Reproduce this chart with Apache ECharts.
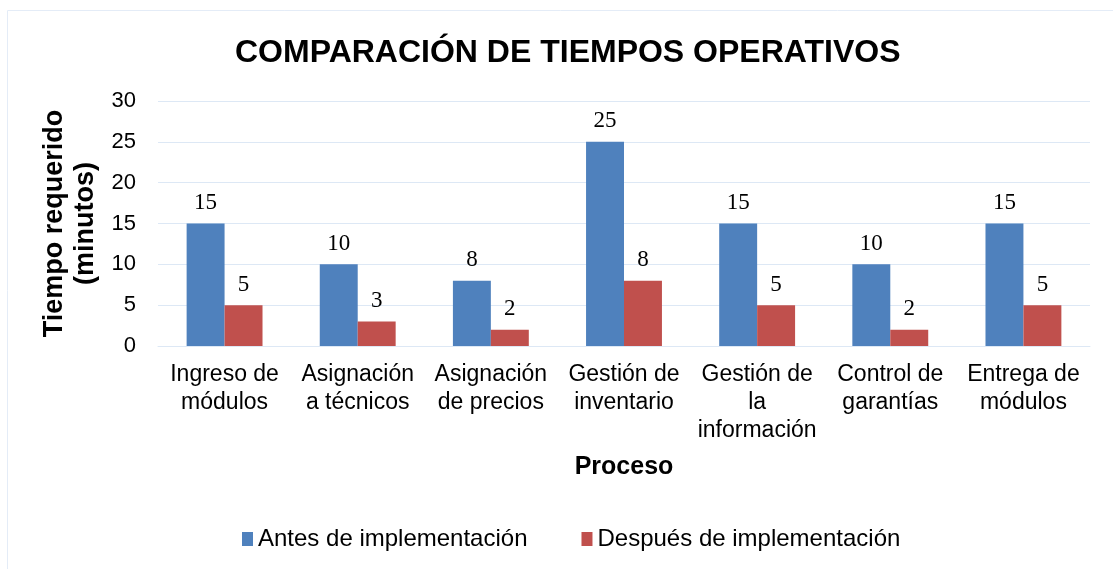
<!DOCTYPE html>
<html>
<head>
<meta charset="utf-8">
<script src="https://cdn.jsdelivr.net/npm/echarts@6/dist/echarts.min.js"></script>
<style>
html,body{margin:0;padding:0;background:#fff;}
#chart{width:1113px;height:569px;}
</style>
</head>
<body>
<div id="chart"></div>
<script>
// datos del gráfico
var categorias = ['Ingreso de\nmódulos', 'Asignación\na técnicos', 'Asignación\nde precios', 'Gestión de\ninventario', 'Gestión de\nla\ninformación', 'Control de\ngarantías', 'Entrega de\nmódulos'];
var antes = [15, 10, 8, 25, 15, 10, 15];
var despues = [5, 3, 2, 8, 5, 2, 5];
var series_nombres = ['Antes de implementación', 'Después de implementación'];

var myChart = echarts.init(document.getElementById('chart'));
var etiqueta = {
	show: true,
	position: 'top',
	distance: 9,
	fontFamily: 'Liberation Serif',
	fontSize: 23,
	color: '#000'
};
var option = {
	animation: false,
	title: {
		text: 'COMPARACIÓN DE TIEMPOS OPERATIVOS',
		left: 230,
		top: 32,
		textStyle: {fontFamily: 'Liberation Sans', fontSize: 32, fontWeight: 'bold', color: '#000'}
	},
	graphic: [{
		type: 'rect',
		shape: {x: 7.5, y: 10.5, width: 1200, height: 700},
		style: {fill: 'none', stroke: '#e4ecf7', lineWidth: 1},
		silent: true
	}],
	legend: {
		top: 522,
		left: 237,
		itemGap: 54,
		itemWidth: 11,
		itemHeight: 14,
		icon: 'rect',
		textStyle: {fontFamily: 'Liberation Sans', fontSize: 24, color: '#000'},
		data: series_nombres
	},
	grid: {left: 158, right: 23, top: 101, bottom: 223, containLabel: false},
	xAxis: {
		type: 'category',
		data: categorias,
		name: 'Proceso',
		nameLocation: 'middle',
		nameGap: 109,
		nameTextStyle: {fontFamily: 'Liberation Sans', fontSize: 25, fontWeight: 'bold', color: '#000'},
		axisLine: {lineStyle: {color: '#dde8f5', width: 1}},
		axisTick: {show: false},
		axisLabel: {fontFamily: 'Liberation Sans', fontSize: 23, color: '#000', lineHeight: 28, margin: 15, interval: 0}
	},
	yAxis: {
		type: 'value',
		min: 0,
		max: 30,
		interval: 5,
		name: 'Tiempo requerido\n(minutos)',
		nameLocation: 'middle',
		nameGap: 52,
		nameTextStyle: {fontFamily: 'Liberation Sans', fontSize: 27, fontWeight: 'bold', color: '#000', lineHeight: 31},
		axisLine: {show: false},
		axisTick: {show: false},
		splitLine: {lineStyle: {color: '#dde8f5', width: 1}},
		axisLabel: {fontFamily: 'Liberation Sans', fontSize: 22, color: '#000', margin: 22}
	},
	series: [{
		name: series_nombres[0],
		type: 'bar',
		data: antes,
		barGap: '0%',
		barCategoryGap: '43%',
		itemStyle: {color: '#4F81BD'},
		label: etiqueta
	}, {
		name: series_nombres[1],
		type: 'bar',
		data: despues,
		itemStyle: {color: '#C0504D'},
		label: etiqueta
	}]
};
myChart.setOption(option);
</script>
</body>
</html>
